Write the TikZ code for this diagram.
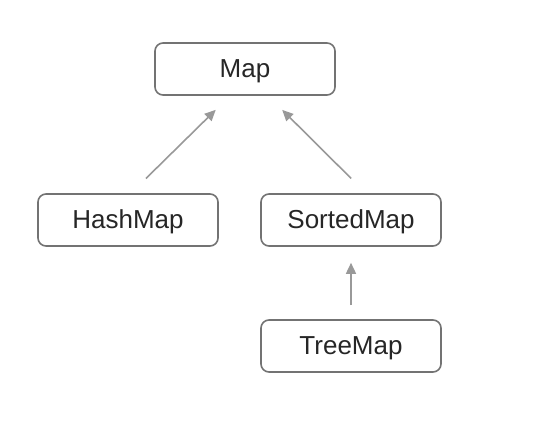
\documentclass[tikz,border=0pt]{standalone}
\usepackage{fontspec}
\setmainfont{Liberation Sans}
\usetikzlibrary{arrows.meta}
\begin{document}
\begin{tikzpicture}[x=1pt,y=-1pt,
  box/.style={draw=black!55,line width=1.6pt,rounded corners=8pt,minimum width=180pt,minimum height=52pt,inner sep=0pt,font=\fontsize{26}{30}\selectfont,text=black!85,text height=17pt,text depth=0pt},
  arr/.style={draw=black!40,line width=1.6pt,-{Triangle[length=11pt,width=10pt]}}]
\useasboundingbox (0,0) rectangle (544,429);
\node[box] (map) at (245,69) {Map};
\node[box] (hash) at (128,220) {HashMap};
\node[box] (sorted) at (351,220) {SortedMap};
\node[box] (tree) at (351,346) {TreeMap};
\draw[arr,shorten <=21pt,shorten >=20pt] ([xshift=3pt]hash.north) -- ([xshift=-15pt]map.south);
\draw[arr,shorten <=21pt,shorten >=20pt] ([xshift=15pt]sorted.north) -- ([xshift=23pt]map.south);
\draw[arr,shorten <=14pt,shorten >=16pt] (tree.north) -- (sorted.south);
\end{tikzpicture}
\end{document}
